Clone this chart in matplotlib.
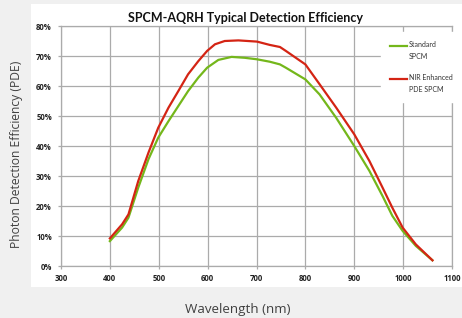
import matplotlib
matplotlib.use("Agg")
import matplotlib.pyplot as plt
from matplotlib.patches import Rectangle
from matplotlib.lines import Line2D
from matplotlib.legend_handler import HandlerLine2D

# ---- data ----
std_wl = [400, 425, 438, 458, 479, 499, 520, 540, 560, 581, 599, 622, 649, 676,
          701, 727, 748, 760, 800, 829, 863, 900, 931, 958, 978, 999, 1026, 1060]
std_pde = [8.3, 12.8, 16.1, 26.1, 35.6, 42.8, 48.3, 53.3, 58.3, 62.8, 66.1, 68.7,
           69.7, 69.4, 68.9, 68.1, 67.2, 66.1, 62.2, 57.2, 49.4, 40.0, 31.7, 23.3,
           16.7, 11.7, 6.7, 1.9]
nir_wl = [400, 425, 438, 458, 479, 499, 520, 540, 560, 581, 599, 615, 635, 663,
          701, 727, 748, 760, 800, 829, 863, 900, 931, 958, 978, 999, 1026, 1060]
nir_pde = [9.2, 13.9, 17.2, 28.3, 37.8, 46.1, 52.8, 58.3, 63.9, 68.3, 71.7, 73.9,
           75.0, 75.2, 74.8, 73.7, 73.0, 71.7, 67.2, 60.6, 52.8, 43.9, 35.0, 26.1,
           19.4, 12.8, 7.2, 1.9]
labels = ["Standard\nSPCM", "NIR Enhanced\nPDE SPCM"]
x_ticks = [300, 400, 500, 600, 700, 800, 900, 1000, 1100]
x_tick_labels = ["300", "400", "500", "600", "700", "800", "900", "1000", "1100"]
y_ticks = [0, 10, 20, 30, 40, 50, 60, 70, 80]
y_tick_labels = ["0%", "10%", "20%", "30%", "40%", "50%", "60%", "70%", "80%"]
title = "SPCM-AQRH Typical Detection Efficiency"
xlabel = "Wavelength (nm)"
ylabel = "Photon Detection Efficiency (PDE)"

GREEN = "#74b71b"
RED = "#d42414"
W, H = 462, 318


class FirstLineHandler(HandlerLine2D):
    """Legend line aligned with the first line of a two-line label."""
    shift = 7.0

    def create_artists(self, legend, orig_handle, xdescent, ydescent,
                       width, height, fontsize, trans):
        return super().create_artists(legend, orig_handle, xdescent,
                                      ydescent - self.shift, width, height,
                                      fontsize, trans)


fig = plt.figure(figsize=(W / 100, H / 100), dpi=100, facecolor="#f0f0f0")
fig.patches.append(Rectangle((31 / W, 1 - 287 / H), 1 - 31 / W, (287 - 4) / H,
                             transform=fig.transFigure, facecolor="white",
                             edgecolor="none", zorder=-5))

ax = fig.add_axes([61 / W, 1 - 266 / H, (452 - 61) / W, (266 - 26) / H])
ax.set_facecolor("white")
ax.plot(std_wl, std_pde, color=GREEN, lw=1.6, label=labels[0], zorder=3,
        solid_joinstyle="round")
ax.plot(nir_wl, nir_pde, color=RED, lw=1.6, label=labels[1], zorder=4,
        solid_joinstyle="round")

ax.set_xlim(300, 1100)
ax.set_ylim(0, 80)
tick_font = dict(fontfamily="Open Sans", fontweight="bold", fontsize=5.6,
                 color="#222222")
ax.set_xticks(x_ticks, x_tick_labels, **tick_font)
ax.set_yticks(y_ticks, y_tick_labels, **tick_font)
ax.grid(True, color="#ababab", lw=0.9, zorder=1)
ax.set_axisbelow(True)
for s in ax.spines.values():
    s.set_color("#ababab")
    s.set_linewidth(0.9)
ax.tick_params(axis="both", length=2.5, width=0.9, color="#ababab")
ax.tick_params(axis="y", pad=4.0)
ax.tick_params(axis="x", pad=3.5)

leg = ax.legend(loc="upper left", bbox_to_anchor=(381 / W, 1 - 32 / H),
                bbox_transform=fig.transFigure, frameon=True, fancybox=False,
                facecolor="white", edgecolor="white", framealpha=1,
                prop={"family": "Lato", "size": 5}, handlelength=2.4,
                handletextpad=0.3, labelspacing=2.0, borderpad=1.3,
                borderaxespad=0,
                handler_map={Line2D: FirstLineHandler()})
for t in leg.get_texts():
    t.set_color("#333333")
    t.set_linespacing(1.8)

fig.text(245 / W, 1 - 18 / H, title, ha="center", va="center",
         fontsize=9, fontweight="bold", family="Lato", color="#111111")
fig.text(17 / W, 1 - 154 / H, ylabel, ha="center", va="center", rotation=90,
         fontsize=8.7, family="Open Sans", color="#404040")
fig.text(238 / W, 1 - 309 / H, xlabel, ha="center", va="center",
         fontsize=9.6, family="Open Sans", color="#404040")

fig.savefig("out.png", dpi=100, facecolor=fig.get_facecolor())
